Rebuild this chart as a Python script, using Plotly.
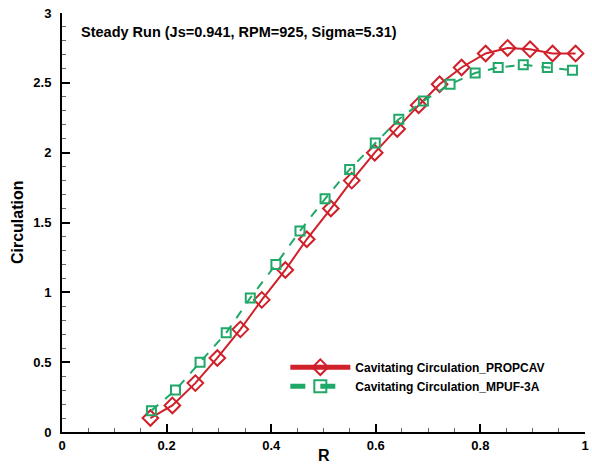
import plotly.graph_objects as go

r_propcav = [0.169, 0.211, 0.255, 0.297, 0.341, 0.382, 0.427, 0.468, 0.514, 0.554,
             0.598, 0.641, 0.682, 0.722, 0.764, 0.810, 0.852, 0.895, 0.938, 0.982]
circ_propcav = [0.10, 0.19, 0.35, 0.53, 0.735, 0.946, 1.16, 1.38, 1.60, 1.80,
                2.00, 2.17, 2.34, 2.49, 2.61, 2.71, 2.75, 2.74, 2.71, 2.71]

r_mpuf = [0.171, 0.217, 0.264, 0.314, 0.360, 0.409, 0.455, 0.503, 0.550, 0.599,
          0.644, 0.691, 0.742, 0.790, 0.834, 0.882, 0.928, 0.976]
circ_mpuf = [0.153, 0.30, 0.50, 0.71, 0.96, 1.20, 1.44, 1.67, 1.88, 2.07,
             2.24, 2.37, 2.49, 2.57, 2.61, 2.63, 2.61, 2.59]

title_text = "Steady Run (Js=0.941, RPM=925, Sigma=5.31)"
x_title = "R"
y_title = "Circulation"
name_propcav = "Cavitating Circulation_PROPCAV"
name_mpuf = "Cavitating Circulation_MPUF-3A"

RED = "#d0202a"
GREEN = "#1fa868"
FONT = "Liberation Sans, Arial, sans-serif"

fig = go.Figure()
fig.add_trace(go.Scatter(
    x=r_propcav, y=circ_propcav, mode="lines+markers", name=name_propcav,
    line=dict(color=RED, width=2),
    marker=dict(symbol="diamond-open", size=12, color=RED, line=dict(width=2, color=RED)),
))
fig.add_trace(go.Scatter(
    x=r_mpuf, y=circ_mpuf, mode="lines+markers", name=name_mpuf,
    line=dict(color=GREEN, width=2, dash="dash"),
    marker=dict(symbol="square-open", size=9, color=GREEN, line=dict(width=2, color=GREEN)),
))

axis_common = dict(
    showline=True, linecolor="black", linewidth=2, mirror=False,
    ticks="inside", ticklen=8, tickwidth=2, tickcolor="black",
    showgrid=False, zeroline=False, automargin=False,
    tickfont=dict(family=FONT, size=13, color="black", weight="bold"),
)

fig.update_xaxes(
    range=[0, 1], tickvals=[0, 0.2, 0.4, 0.6, 0.8, 1], ticktext=["0", "0.2", "0.4", "0.6", "0.8", "1"],
    minor=dict(ticks="inside", ticklen=4, tickwidth=1, tickcolor="#666", dtick=0.05, showgrid=False),
    ticklabelstandoff=0,
    **axis_common,
)
fig.update_yaxes(
    range=[0, 3], tickvals=[0, 0.5, 1, 1.5, 2, 2.5, 3], ticktext=["0", "0.5", "1", "1.5", "2", "2.5", "3"],
    minor=dict(ticks="inside", ticklen=4, tickwidth=1, tickcolor="#666", dtick=0.1, showgrid=False),
    ticklabelstandoff=6,
    **axis_common,
)

fig.add_annotation(
    text=title_text, xref="paper", yref="paper", x=0.032, y=0.955,
    xanchor="left", yanchor="middle", showarrow=False,
    font=dict(family=FONT, size=14.5, color="black", weight="bold"),
)
fig.add_annotation(
    text=x_title, xref="paper", yref="paper", x=0.5, y=-0.055,
    xanchor="center", yanchor="middle", showarrow=False,
    font=dict(family=FONT, size=16, color="black", weight="bold"),
)
fig.add_annotation(
    text=y_title, xref="paper", yref="paper", x=-0.085, y=0.5, textangle=-90,
    xanchor="center", yanchor="middle", showarrow=False,
    font=dict(family=FONT, size=16, color="black", weight="bold"),
)

fig.update_layout(
    width=592, height=465,
    margin=dict(l=62, r=7, t=13, b=33),
    paper_bgcolor="white", plot_bgcolor="white",
    showlegend=True,
    legend=dict(
        x=0.427, y=0.132, xanchor="left", yanchor="middle",
        bgcolor="rgba(0,0,0,0)", itemwidth=60,
        font=dict(family=FONT, size=12, color="black", weight="bold"),
        tracegroupgap=0, itemsizing="constant",
    ),
)

fig.write_html(
    "out.html",
    config={"displayModeBar": False},
    post_script="document.body.style.margin='0';document.body.style.overflow='hidden';",
)
